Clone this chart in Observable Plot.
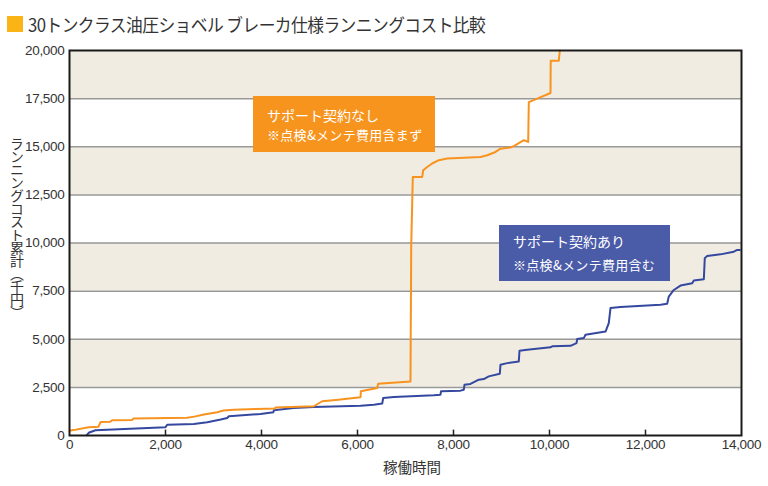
<!DOCTYPE html>
<html><head><meta charset="utf-8">
<script src="https://cdn.jsdelivr.net/npm/d3@7"></script>
<script src="https://cdn.jsdelivr.net/npm/@observablehq/plot@0.6"></script>
<style>
body{margin:0;background:#fff;}
#wrap{position:relative;width:768px;height:486px;overflow:hidden;font-family:"Noto Sans CJK JP","Noto Sans",sans-serif;color:#333;}
#title{position:absolute;left:7px;top:12px;height:24px;display:flex;align-items:center;font-size:18px;color:#333;white-space:nowrap;}
#title .sq{display:inline-block;width:16px;height:16px;background:#FBB415;margin-right:5px;}
#ttext{display:inline-block;letter-spacing:-0.6px;transform:scaleX(0.93);transform-origin:left center;}
#chart{position:absolute;left:0;top:40px;}
#ylabel{position:absolute;left:9px;top:137px;writing-mode:vertical-rl;font-size:14px;letter-spacing:-1px;color:#333;line-height:16px;}
#xlabel{position:absolute;left:383px;top:456px;font-size:14.5px;color:#333;white-space:nowrap;}
.box{position:absolute;color:#fff;box-sizing:border-box;}
.box .l1{font-size:14px;white-space:nowrap;}
.box .l2{font-size:13px;line-height:19px;white-space:nowrap;letter-spacing:0.3px;}
#boxA{left:253px;top:96px;width:182px;height:56px;background:#F7941D;padding:9px 0 0 14px;}
#boxA .l1{line-height:20px;}
#boxB{left:499px;top:225px;width:171px;height:56px;background:#4A5BA8;padding:2px 0 0 14px;}
#boxB .l1{line-height:28px;}
</style></head>
<body>
<div id="wrap">
  <div id="title"><span class="sq"></span><span id="ttext"></span></div>
  <div id="chart"></div>
  <div id="ylabel"></div>
  <div id="xlabel"></div>
  <div class="box" id="boxA"><div class="l1"></div><div class="l2"></div></div>
  <div class="box" id="boxB"><div class="l1"></div><div class="l2"></div></div>
</div>
<script>
const titleText = "30トンクラス油圧ショベル ブレーカ仕様ランニングコスト比較";
const yTitle = "ランニングコスト累計（千円）";
const xTitle = "稼働時間";
const seriesNames = ["サポート契約なし", "サポート契約あり"];
const seriesNotes = ["※点検&メンテ費用含まず", "※点検&メンテ費用含む"];
const xTicks = [0, 2000, 4000, 6000, 8000, 10000, 12000, 14000];
const yTicks = [0, 2500, 5000, 7500, 10000, 12500, 15000, 17500, 20000];
const bandLow = [2500, 7500, 12500, 17500];
const bandHigh = [5000, 10000, 15000, 20000];

// サポート契約なし (orange)
const hoursNo = [0, 80, 400, 600, 650, 850, 890, 1300, 1330, 2450, 2600, 2800, 3080, 3210, 3420, 4120, 4280, 4290, 5090, 5265, 5600, 6063, 6070, 6410, 6431, 7104, 7119, 7152, 7348, 7369, 7452, 7556, 7694, 7869, 8563, 8702, 8875, 8979, 9188, 9256, 9465, 9556, 9569, 9744, 10021, 10025, 10194, 10215];
const costNo = [250, 280, 430, 450, 700, 720, 790, 800, 880, 920, 980, 1090, 1210, 1300, 1340, 1390, 1400, 1460, 1520, 1780, 1860, 1985, 2300, 2470, 2690, 2800, 9800, 13430, 13430, 13780, 13950, 14130, 14300, 14390, 14470, 14560, 14730, 14900, 14960, 15030, 15340, 15250, 17320, 17500, 17790, 19470, 19470, 20000];

// サポート契約あり (blue)
const hoursYes = [360, 400, 540, 2000, 2035, 2590, 2870, 3150, 3285, 3320, 3980, 4250, 4256, 4670, 5090, 6063, 6340, 6515, 6535, 6756, 7590, 7729, 7740, 8146, 8215, 8229, 8354, 8527, 8631, 8735, 8965, 8979, 9119, 9360, 9375, 9535, 10021, 10056, 10438, 10563, 10577, 10715, 10750, 11167, 11235, 11271, 11479, 12312, 12452, 12485, 12590, 12729, 12973, 13006, 13215, 13235, 13285, 13563, 13840, 13910, 13965];
const costYes = [20, 140, 275, 430, 560, 600, 690, 830, 910, 1000, 1120, 1210, 1310, 1430, 1480, 1550, 1600, 1660, 1950, 2000, 2090, 2120, 2300, 2330, 2380, 2640, 2680, 2900, 2930, 3070, 3210, 3680, 3760, 3850, 4400, 4460, 4580, 4630, 4660, 4800, 5010, 5060, 5230, 5400, 5840, 6620, 6680, 6790, 6840, 7220, 7560, 7790, 7910, 8050, 8120, 9210, 9330, 9410, 9550, 9640, 9640];

const noData = hoursNo.map((h, i) => ({h, v: costNo[i]}));
const yesData = hoursYes.map((h, i) => ({h, v: costYes[i]}));
const bands = bandLow.map((lo, i) => ({lo, hi: bandHigh[i]}));

document.getElementById("ttext").textContent = titleText;
document.getElementById("ylabel").textContent = yTitle;
document.getElementById("xlabel").textContent = xTitle;
document.querySelector("#boxA .l1").textContent = seriesNames[0];
document.querySelector("#boxA .l2").textContent = seriesNotes[0];
document.querySelector("#boxB .l1").textContent = seriesNames[1];
document.querySelector("#boxB .l2").textContent = seriesNotes[1];

const chart = Plot.plot({
  width: 768,
  height: 446,
  marginTop: 10,
  marginBottom: 51,
  marginLeft: 69,
  marginRight: 27,
  style: {fontFamily: '"Liberation Sans Narrow","Arial Narrow","Liberation Sans",sans-serif', fontSize: "13.5px", letterSpacing: "-0.3px", color: "#333", background: "transparent"},
  x: {domain: [0, 14000], ticks: xTicks, tickFormat: d3.format(","), tickSize: 0, tickPadding: 4, label: null},
  y: {domain: [0, 20000], ticks: yTicks, tickFormat: d3.format(","), tickSize: 0, tickPadding: 5, label: null},
  marks: [
    Plot.rect(bands, {x1: 0, x2: 14000, y1: "lo", y2: "hi", fill: "#F0ECE2"}),
    Plot.ruleY(yTicks.slice(1, -1), {stroke: "#999", strokeWidth: 1.5}),
    Plot.ruleX(xTicks.slice(1, -1), {y1: 0, y2: 280, stroke: "#222", strokeWidth: 1.5}),
    Plot.line(yesData, {x: "h", y: "v", stroke: "#3548A0", strokeWidth: 2}),
    Plot.line(noData, {x: "h", y: "v", stroke: "#F7931E", strokeWidth: 2}),
    Plot.frame({stroke: "#1a1a1a", strokeWidth: 2})
  ]
});
document.getElementById("chart").appendChild(chart);
</script>
</body></html>
